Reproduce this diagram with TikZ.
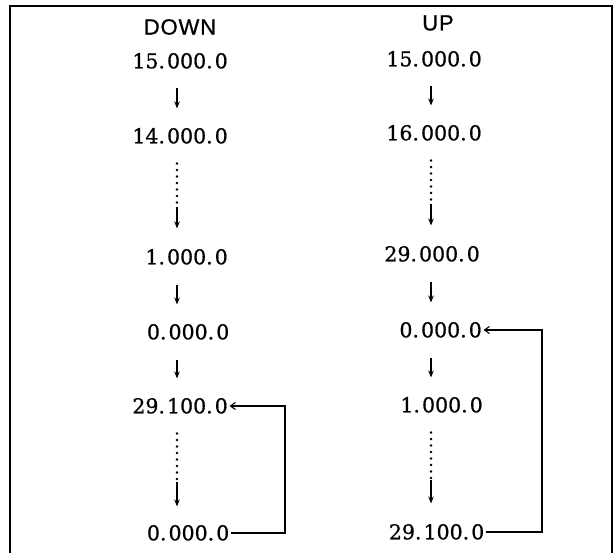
\documentclass[tikz,border=0pt]{standalone}
\usepackage{fontspec}
\setmainfont{DejaVu Serif}
\newfontfamily\numfont[FakeBold=0.8]{DejaVu Serif}
\newfontfamily\hdfont[LetterSpace=4,FakeBold=0.8]{Liberation Sans}
\usetikzlibrary{arrows.meta}
\newcommand\gp{\hspace{0.1em}}
\begin{document}
\begin{tikzpicture}[x=1pt,y=-1pt,
  num/.style={anchor=east,inner xsep=1.5pt,inner ysep=0pt,text height=14.6pt,text depth=0pt,
    font=\numfont\fontsize{20.5}{22}\selectfont},
  hd/.style={inner sep=0pt,font=\hdfont\fontsize{22}{24}\selectfont},
  arr/.style={line width=1.3pt,-{Stealth[length=7pt,width=5.5pt]},shorten <=20pt,shorten >=20pt},
  dotline/.style={line width=2.6pt,dash pattern=on 0pt off 6.5pt,line cap=round,shorten <=20pt},
  arrend/.style={line width=1.3pt,-{Stealth[length=7pt,width=5.5pt]}},
  backline/.style={line width=1.1pt,-{Straight Barb[length=5pt,width=7pt]}},
  frame/.style={line width=1.4pt}]
\useasboundingbox (0,0) rectangle (615,553);
\draw[frame] (10,553) -- (10,6) -- (612,6) -- (612,553);

% column axes
\coordinate (L) at (177,0);
\coordinate (R) at (431,0);
\coordinate (LL) at (285,0);
\coordinate (RR) at (542,0);

% headers
\node[hd] (hD) at (180,27) {DOWN};
\node[hd] (hU) at (438,23) {UP};

% DOWN column
\node[num] (a1) at (229.5,61) {15.\gp000.\gp0};
\node[num] (a2) at (229.5,136) {14.\gp000.\gp0};
\node[num] (a3) at (229.5,257) {1.\gp000.\gp0};
\node[num] (a4) at (231,332) {0.\gp000.\gp0};
\node[num] (a5) at (229.5,406) {29.\gp100.\gp0};
\node[num] (a6) at (231,533) {0.\gp000.\gp0};

% UP column
\node[num] (b1) at (483.5,59) {15.\gp000.\gp0};
\node[num] (b2) at (483.5,133) {16.\gp000.\gp0};
\node[num] (b3) at (481.5,254) {29.\gp000.\gp0};
\node[num] (b4) at (483.5,330) {0.\gp000.\gp0};
\node[num] (b5) at (484.5,405) {1.\gp000.\gp0};
\node[num] (b6) at (486,532) {29.\gp100.\gp0};

% dotted-segment end points
\coordinate (dL1) at (177,207);
\coordinate (dL2) at (177,482);
\coordinate (dR1) at (431,204);
\coordinate (dR2) at (431,480);

% DOWN arrows
\draw[arr] (a1.south -| L) -- (a2.north -| L);
\draw[dotline] (a2.south -| L) -- (dL1);
\draw[arrend,shorten >=21pt] (dL1) -- (a3.north -| L);
\draw[arr] (a3.south -| L) -- (a4.north -| L);
\draw[arr] (a4.south -| L) -- (a5.north -| L);
\draw[dotline] (a5.south -| L) -- (dL2);
\draw[arrend,shorten >=19pt] (dL2) -- (a6.north -| L);

% UP arrows
\draw[arr] (b1.south -| R) -- (b2.north -| R);
\draw[dotline] (b2.south -| R) -- (dR1);
\draw[arrend,shorten >=21pt] (dR1) -- (b3.north -| R);
\draw[arr] (b3.south -| R) -- (b4.north -| R);
\draw[arr] (b4.south -| R) -- (b5.north -| R);
\draw[dotline] (b5.south -| R) -- (dR2);
\draw[arrend,shorten >=21pt] (dR2) -- (b6.north -| R);

% return lines
\draw[backline] (a6.east) -- (a6.east -| LL) -- (a5.east -| LL) -- (a5.east);
\draw[backline] (b6.east) -- (b6.east -| RR) -- (b4.east -| RR) -- (b4.east);
\end{tikzpicture}
\end{document}
